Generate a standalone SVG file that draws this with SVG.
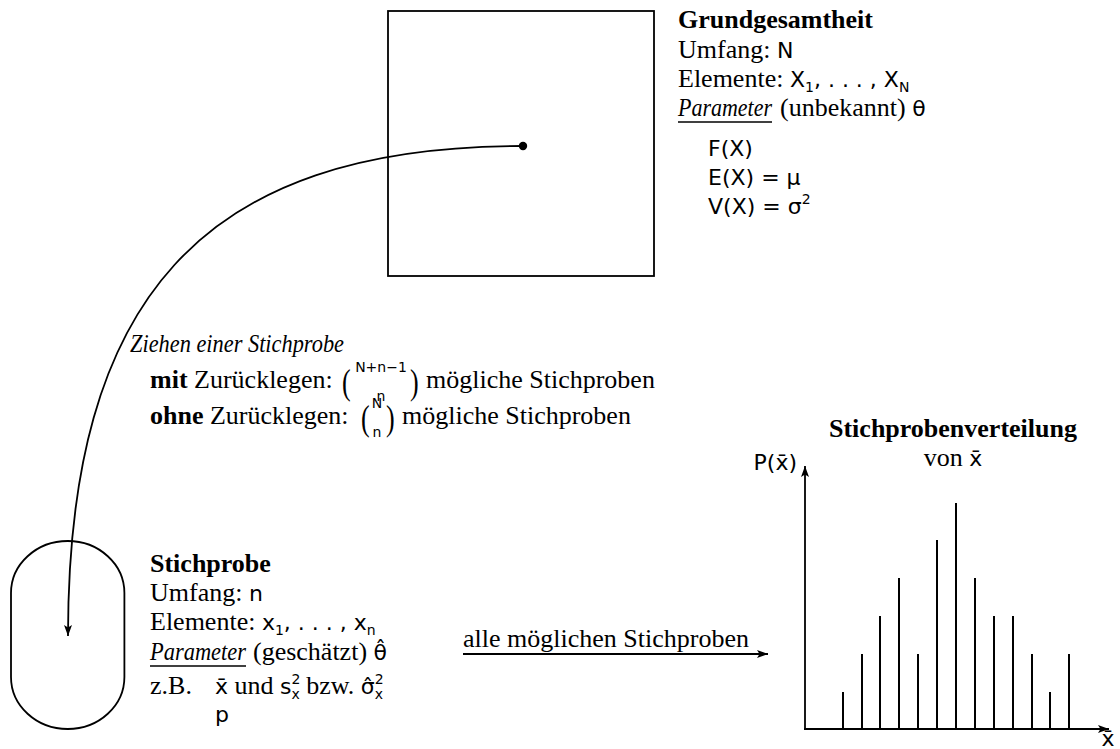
<svg xmlns="http://www.w3.org/2000/svg" width="1120" height="749" viewBox="0 0 1120 749">
<defs>
<style>
.t{font-family:"Liberation Serif","Times New Roman",serif;font-size:26px;fill:#000}
.b{font-family:"Liberation Serif","Times New Roman",serif;font-size:26px;font-weight:bold;fill:#000}
.i{font-style:italic}
.m{font-family:"DejaVu Sans",sans-serif;font-size:22px;font-style:normal;font-weight:normal}
.sub{font-size:14px}
.sm{font-family:"DejaVu Sans",sans-serif;font-size:14px;fill:#000}
.ln{fill:none;stroke:#000;stroke-width:1.8}
.ul{stroke:#000;stroke-width:1.3}
.bar{stroke:#000;stroke-width:2}
</style>
<marker id="ah" markerUnits="userSpaceOnUse" markerWidth="12" markerHeight="10" refX="11" refY="4" orient="auto">
<path d="M0,0 L11,4 L0,8 L2.5,4 z" fill="#000"/>
</marker>
</defs>
<rect width="1120" height="749" fill="#fff"/>

<g id="grundgesamtheit">
<rect x="388" y="11" width="266" height="265" class="ln"/>
<circle cx="523" cy="146" r="4.2" fill="#000"/>
<text x="678" y="28" class="b">Grundgesamtheit</text>
<text x="678" y="58" class="t">Umfang: <tspan class="m">N</tspan></text>
<text x="678" y="87" class="t">Elemente: <tspan class="m">X<tspan class="sub" dy="5">1</tspan><tspan dy="-5">, . . . , X</tspan><tspan class="sub" dy="5">N</tspan></tspan></text>
<text x="678" y="116" class="t i" textLength="94" lengthAdjust="spacingAndGlyphs">Parameter</text>
<line x1="678" y1="122" x2="772" y2="122" class="ul"/>
<text x="780" y="116" class="t">(unbekannt) <tspan class="m">θ</tspan></text>
<text x="708" y="156" class="t"><tspan class="m">F(X)</tspan></text>
<text x="708" y="185" class="t"><tspan class="m">E(X) = μ</tspan></text>
<text x="708" y="214" class="t"><tspan class="m">V(X) = σ<tspan class="sub" dy="-10">2</tspan></tspan></text>
</g>

<g id="stichprobe">
<path d="M11,593 A56.7,52 0 0 1 124.4,593 L124.4,677 A56.7,52 0 0 1 11,677 Z" class="ln"/>
<text x="150" y="572" class="b">Stichprobe</text>
<text x="150" y="601" class="t">Umfang: <tspan class="m">n</tspan></text>
<text x="150" y="630" class="t">Elemente: <tspan class="m">x<tspan class="sub" dy="5">1</tspan><tspan dy="-5">, . . . , x</tspan><tspan class="sub" dy="5">n</tspan></tspan></text>
<text x="150" y="660" class="t i" textLength="96" lengthAdjust="spacingAndGlyphs">Parameter</text>
<line x1="150" y1="666" x2="246" y2="666" class="ul"/>
<text x="253" y="660" class="t">(geschätzt) <tspan class="m">θ̂</tspan></text>
<text x="150" y="694" class="t">z.B.</text>
<text x="215" y="694" class="t"><tspan class="m">x̄</tspan> und <tspan class="m">s<tspan class="sub" dy="-10">2</tspan><tspan class="sub" dx="-9" dy="15">x</tspan></tspan><tspan dy="-5"> bzw. </tspan><tspan class="m">σ̂<tspan class="sub" dy="-10">2</tspan><tspan class="sub" dx="-9" dy="15">x</tspan></tspan></text>
<text x="215" y="722" class="t"><tspan class="m">p</tspan></text>
</g>

<g id="ziehen-label">
<text x="130" y="352" class="t i" textLength="214" lengthAdjust="spacingAndGlyphs">Ziehen einer Stichprobe</text>
<text x="150" y="388" class="t"><tspan font-weight="bold">mit</tspan> Zurücklegen:</text>
<text transform="translate(342,394) scale(1,1.4)" class="t">(</text>
<text x="381" y="372" class="sm" text-anchor="middle">N+n−1</text>
<text x="381" y="401" class="sm" text-anchor="middle">n</text>
<text transform="translate(410,394) scale(1,1.4)" class="t">)</text>
<text x="426" y="388" class="t">mögliche Stichproben</text>
<text x="150" y="424" class="t"><tspan font-weight="bold">ohne</tspan> Zurücklegen:</text>
<text transform="translate(361,430) scale(1,1.4)" class="t">(</text>
<text x="377" y="408" class="sm" text-anchor="middle">N</text>
<text x="377" y="437" class="sm" text-anchor="middle">n</text>
<text transform="translate(386,430) scale(1,1.4)" class="t">)</text>
<text x="402" y="424" class="t">mögliche Stichproben</text>
</g>

<g id="verteilung">
<text x="953" y="437" class="b" text-anchor="middle">Stichprobenverteilung</text>
<text x="953" y="466" class="t" text-anchor="middle">von <tspan class="m">x̄</tspan></text>
<text x="797" y="470" class="t" text-anchor="end"><tspan class="m">P(x̄)</tspan></text>
<line x1="805" y1="730" x2="805" y2="466" class="ln" marker-end="url(#ah)"/>
<line x1="804" y1="729" x2="1109" y2="729" class="ln" marker-end="url(#ah)"/>
<text x="1108" y="746" class="t" text-anchor="middle"><tspan class="m">x̄</tspan></text>
<g class="bar">
<line x1="843" y1="729" x2="843" y2="692"/>
<line x1="862" y1="729" x2="862" y2="654"/>
<line x1="880" y1="729" x2="880" y2="616"/>
<line x1="899" y1="729" x2="899" y2="578"/>
<line x1="918" y1="729" x2="918" y2="654"/>
<line x1="937" y1="729" x2="937" y2="540"/>
<line x1="956" y1="729" x2="956" y2="503"/>
<line x1="975" y1="729" x2="975" y2="578"/>
<line x1="994" y1="729" x2="994" y2="616"/>
<line x1="1013" y1="729" x2="1013" y2="616"/>
<line x1="1032" y1="729" x2="1032" y2="654"/>
<line x1="1050" y1="729" x2="1050" y2="692"/>
<line x1="1069" y1="729" x2="1069" y2="654"/>
</g>
</g>

<g id="connectors">
<path d="M523,146 C200,146 68,300 68,636" class="ln" marker-end="url(#ah)"/>
<line x1="463" y1="654" x2="768" y2="654" class="ln" marker-end="url(#ah)"/>
<text x="463" y="647" class="t">alle möglichen Stichproben</text>
</g>
</svg>
